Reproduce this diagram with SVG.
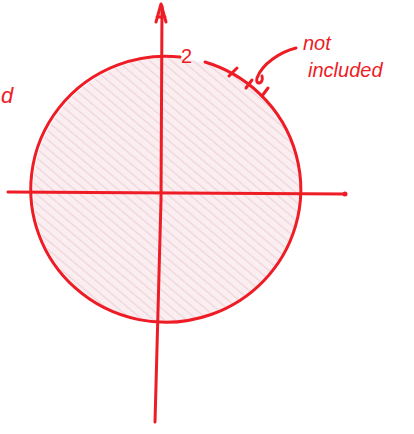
<svg xmlns="http://www.w3.org/2000/svg" width="414" height="434" viewBox="0 0 414 434">
<style>
.ink{fill:none;stroke:#ee1c25;stroke-width:3;stroke-linecap:round;stroke-linejoin:round}
.lbl{font-family:"Liberation Sans",sans-serif;fill:#ee1c25}
</style>
<defs>
<pattern id="hatch" width="7" height="7" patternUnits="userSpaceOnUse" patternTransform="rotate(-50)">
<rect width="7" height="7" fill="#faeef1"/>
<line x1="0" y1="0" x2="0" y2="7" stroke="#f0d3da" stroke-width="2.5"/>
</pattern>
</defs>
<rect width="414" height="434" fill="#ffffff"/>
<g id="disk">
<ellipse cx="167" cy="190" rx="134" ry="132" fill="url(#hatch)"/>
<path class="ink" d="M180 57 A135 133 0 1 0 205 62"/>
</g>
<g id="connectors">
<path class="ink" d="M8 192 L345 194"/>
<circle cx="345" cy="194" r="2.5" fill="#ee1c25"/>
<path class="ink" d="M162 6 L161 200 L155 422"/>
<path class="ink" d="M156 22 L161 4 L166 22 M157 17 L165 17"/>
<path class="ink" d="M296 48 C280 52 262 64 257 78 C255 86 264 84 262 76"/>
</g>
<g id="marks">
<path class="ink" d="M229 76 L237 68 M246 88 L252 80 M262 96 L268 88"/>
</g>
<g id="labels">
<text class="lbl" x="181" y="63" font-size="20">2</text>
<text class="lbl" x="303" y="50" font-size="20" font-style="italic">not</text>
<text class="lbl" x="308" y="77" font-size="20" font-style="italic">included</text>
<text class="lbl" x="1" y="103" font-size="22" font-style="italic">d</text>
</g>
</svg>
